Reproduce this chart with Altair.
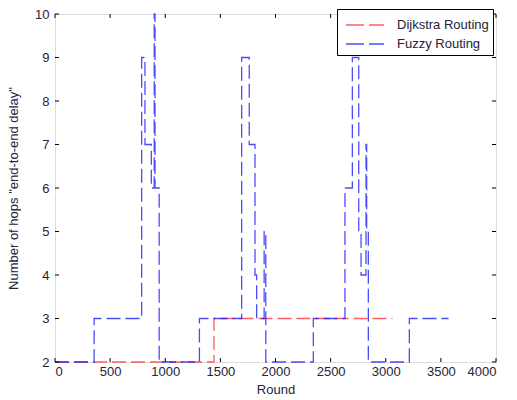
import altair as alt
import pandas as pd

# Step series: each value holds from its round until the next listed round
fuzzy_round = [0, 355, 786, 816, 874, 900, 907, 945, 1310, 1693, 1762, 1814, 1829,
               1897, 1912, 2343, 2630, 2697, 2755, 2776, 2821, 2827, 2842, 3214, 3570]
fuzzy_hops = [2, 3, 9, 7, 6, 10, 6, 2, 3, 9, 7, 4, 3,
              5, 2, 3, 6, 9, 5, 4, 7, 5, 2, 3, 3]
dijkstra_round = [0, 1442, 3060]
dijkstra_hops = [2, 3, 3]

x_ticks = [0, 500, 1000, 1500, 2000, 2500, 3000, 3500, 4000]
y_ticks = [2, 3, 4, 5, 6, 7, 8, 9, 10]

series_names = ["Dijkstra Routing", "Fuzzy Routing"]
series_colors = ["#ff2a2a", "#1010ff"]

W, H = 441, 348

lines = pd.concat([
    pd.DataFrame({"round": dijkstra_round, "hops": dijkstra_hops,
                  "series": "Dijkstra Routing", "order": range(len(dijkstra_round))}),
    pd.DataFrame({"round": fuzzy_round, "hops": fuzzy_hops,
                  "series": "Fuzzy Routing", "order": range(len(fuzzy_round))}),
], ignore_index=True)

x_scale = alt.Scale(domain=[0, 4000], nice=False, zero=False)
y_scale = alt.Scale(domain=[2, 10], nice=False, zero=False)

label_color = "#23233a"
font = "Liberation Sans"
fs = 13

x_axis = alt.Axis(values=x_ticks, format="d", ticks=False, domain=False, grid=False,
                  labelFontSize=fs, labelColor=label_color, labelPadding=3,
                  labelFont=font, title="Round", titleFont=font,
                  titleFontSize=fs, titleFontWeight="normal", titleColor=label_color,
                  titlePadding=5)
y_axis = alt.Axis(values=y_ticks, format="d", ticks=False, domain=False, grid=False,
                  labelFontSize=fs, labelColor=label_color, labelPadding=6,
                  labelFont=font, title='Number of hops "end-to-end delay"',
                  titleFont=font, titleFontSize=fs,
                  titleFontWeight="normal", titleColor=label_color, titlePadding=14)

line_layer = alt.Chart(lines).mark_line(
    interpolate="step-after", strokeDash=[14, 5], strokeWidth=1.3, opacity=0.75
).encode(
    x=alt.X("round:Q", scale=x_scale, axis=x_axis, title="Round"),
    y=alt.Y("hops:Q", scale=y_scale, axis=y_axis,
            title='Number of hops "end-to-end delay"'),
    color=alt.Color("series:N",
                    scale=alt.Scale(domain=series_names, range=series_colors),
                    legend=alt.Legend(title=None, orient="none", legendX=282, legendY=-5,
                                      strokeColor="#000", fillColor="#fff",
                                      padding=4, symbolType="M-1.7,0H1.7",
                                      symbolDash=[18, 5], symbolStrokeWidth=1.3,
                                      symbolSize=500, labelFontSize=fs,
                                      labelFont=font, symbolOffset=12,
                                      labelColor=label_color, rowPadding=0,
                                      labelOffset=20)),
    order="order:Q",
)

xt = pd.DataFrame({"t": x_ticks})
yt = pd.DataFrame({"t": y_ticks})
tick_len = 4

# Inward tick marks on all four sides of the frame
bottom_ticks = alt.Chart(xt).mark_rule(color="#000", strokeWidth=1).encode(
    x=alt.X("t:Q", scale=x_scale, axis=x_axis, title="Round"),
    y=alt.value(H), y2=alt.value(H - tick_len))
top_ticks = alt.Chart(xt).mark_rule(color="#000", strokeWidth=1).encode(
    x=alt.X("t:Q", scale=x_scale, axis=x_axis, title="Round"),
    y=alt.value(0), y2=alt.value(tick_len))
left_ticks = alt.Chart(yt).mark_rule(color="#000", strokeWidth=1).encode(
    y=alt.Y("t:Q", scale=y_scale, axis=y_axis,
            title='Number of hops "end-to-end delay"'),
    x=alt.value(0), x2=alt.value(tick_len))
right_ticks = alt.Chart(yt).mark_rule(color="#000", strokeWidth=1).encode(
    y=alt.Y("t:Q", scale=y_scale, axis=y_axis,
            title='Number of hops "end-to-end delay"'),
    x=alt.value(W), x2=alt.value(W - tick_len))

chart = alt.layer(
    line_layer, bottom_ticks, top_ticks, left_ticks, right_ticks
).properties(
    width=W, height=H,
    autosize=alt.AutoSizeParams(type="none"),
    padding={"left": 55, "top": 14, "right": 21, "bottom": 38},
).configure_view(
    stroke="#222", strokeWidth=1
).configure(background="#ffffff")

chart.save("out.html", embed_options={"renderer": "svg", "actions": False})
